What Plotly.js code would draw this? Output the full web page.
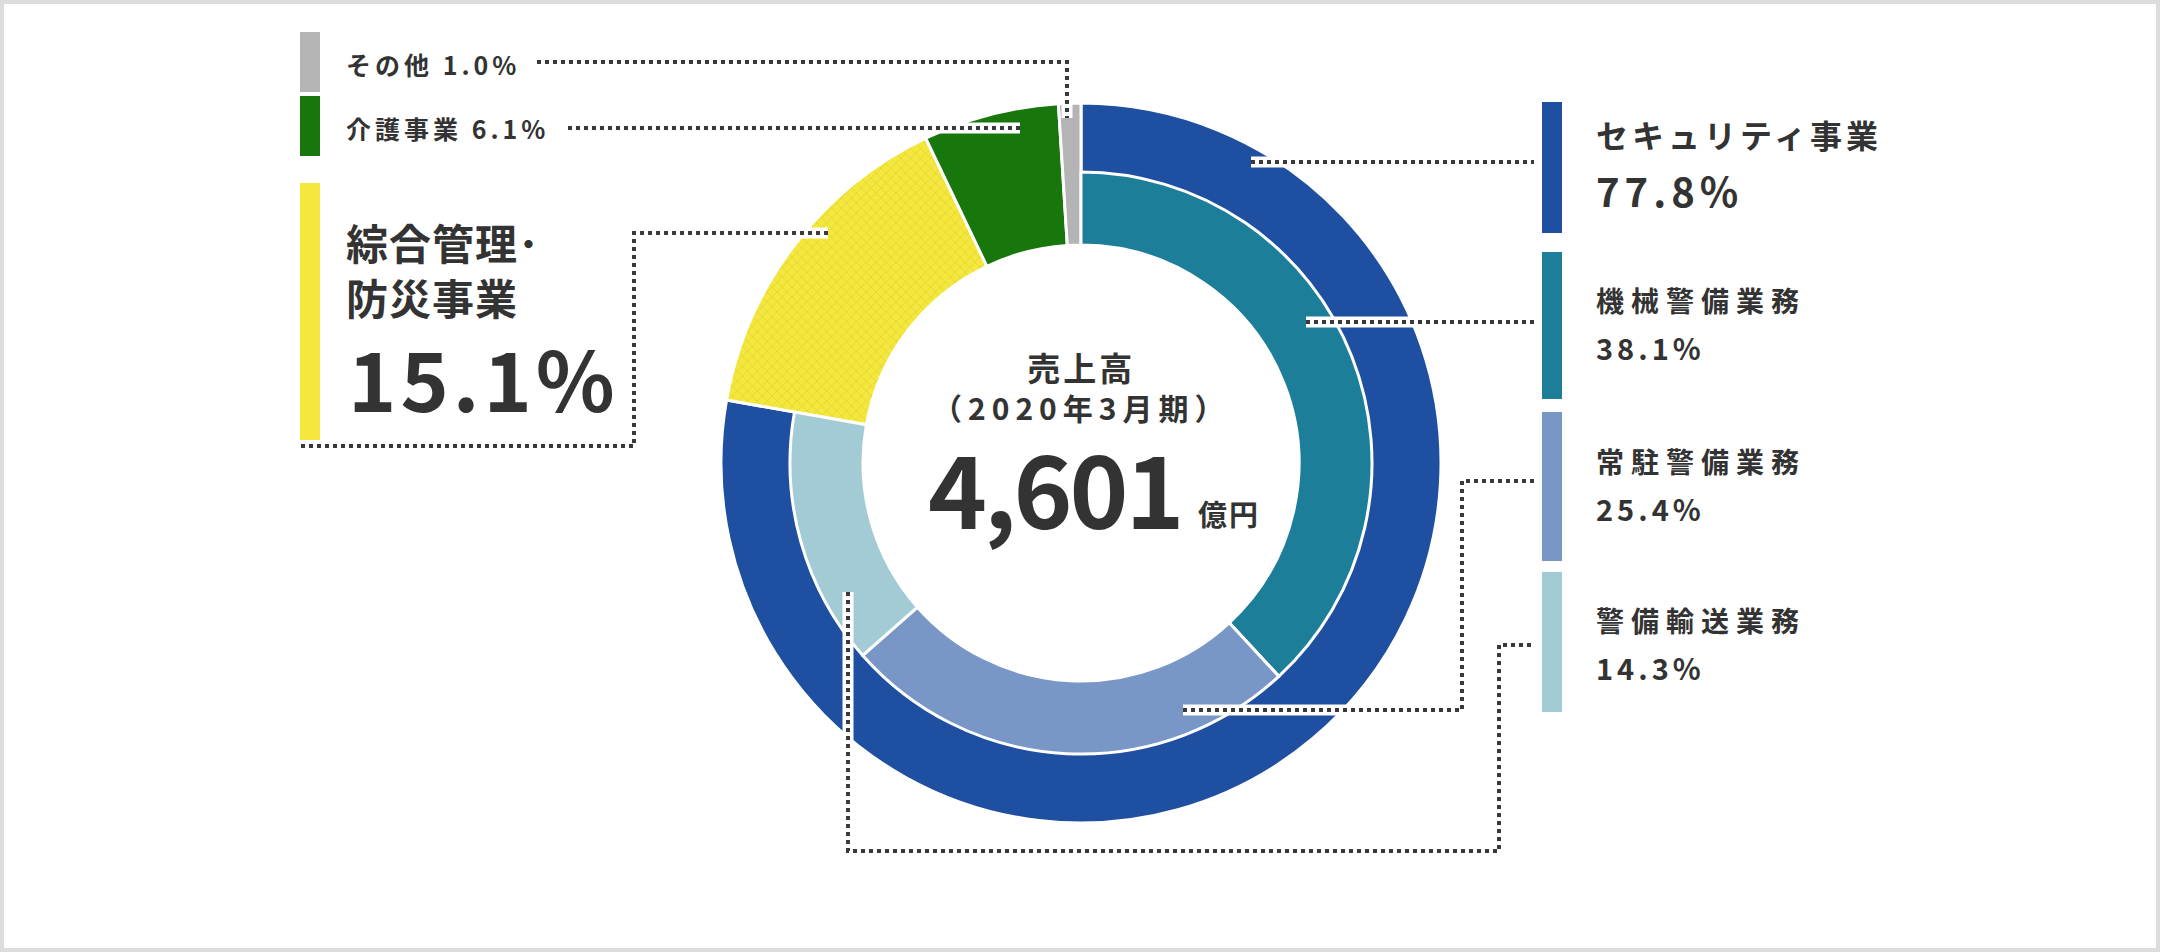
<!DOCTYPE html>
<html>
<head>
<meta charset="utf-8">
<script src="https://cdn.plot.ly/plotly-3.0.1.min.js"></script>
<style>
  html, body { margin: 0; padding: 0; background: #fff; }
  #sales_chart { width: 2160px; height: 952px; }
</style>
</head>
<body>
<div id="sales_chart"></div>
<script>
// segment share of sales, FY2020/3 (%)
var segments = ['セキュリティ事業', '綜合管理･防災事業', '介護事業', 'その他']
var segment_share = [77.8, 15.1, 6.1, 1.0]
var segment_colors = ['#1f4fa0', '#f4e83e', '#17760c', '#b4b4b4']

// breakdown of the security business (%)
var security_parts = ['機械警備業務', '常駐警備業務', '警備輸送業務']
var security_share = [38.1, 25.4, 14.3]
var security_colors = ['#1c7e99', '#7896c6', '#a3cbd6']

var sales_title = '売上高'
var sales_period = '（2020年3月期）'
var sales_total = 4601
var sales_unit = '億円'

var W = 2160, H = 952
function px(x) { return x / W }
function py(y) { return 1 - y / H }

var FONT = 'Noto Sans CJK JP, Noto Sans, sans-serif'
var INK = '#333333'

// donut geometry (pixels)
var cx = 1081, cy = 463, r_out = 360, r_mid = 291, r_in = 218

function domain(r) {
    return { x: [px(cx - r), px(cx + r)], y: [py(cy + r), py(cy - r)] }
}

// inner ring only covers the security part, the rest is left see-through
var total = segment_share.reduce(function (a, b) { return a + b }, 0)
var inner_sum = security_share.reduce(function (a, b) { return a + b }, 0)
var see_through = total - inner_sum

var data = [
    {
        type: 'pie',
        labels: segments,
        values: segment_share,
        sort: false,
        direction: 'clockwise',
        rotation: 0,
        hole: r_in / r_out,
        domain: domain(r_out),
        marker: {
            colors: segment_colors,
            line: { color: '#ffffff', width: 3 },
            pattern: {
                shape: ['', 'x', '', ''],
                bgcolor: segment_colors,
                fgcolor: ['#ffffff', '#dccd2c', '#ffffff', '#ffffff'],
                fgopacity: 0.6,
                size: 7,
                solidity: 0.25
            }
        },
        textinfo: 'none',
        hoverinfo: 'label+percent',
        showlegend: false
    },
    {
        type: 'pie',
        labels: security_parts.concat(['']),
        values: security_share.concat([see_through]),
        sort: false,
        direction: 'clockwise',
        rotation: 0,
        hole: r_in / r_mid,
        domain: domain(r_mid),
        marker: {
            colors: security_colors.concat(['rgba(0,0,0,0)']),
            line: { color: '#ffffff', width: [3, 3, 3, 0] }
        },
        textinfo: 'none',
        hoverinfo: 'label+value',
        showlegend: false
    }
]

function sp(txt, s, size) {
    return '<span style="letter-spacing:' + s + 'px' + (size ? ';font-size:' + size + 'px' : '') + '">' + txt + '</span>'
}
function pct(v) { return v.toFixed(1) + '%' }

function note(txt, x, y, size, anchor) {
    return {
        text: txt, x: px(x), y: py(y), xref: 'paper', yref: 'paper',
        xanchor: anchor || 'left', yanchor: 'middle', align: anchor || 'left', showarrow: false,
        font: { family: FONT, size: size, color: INK, weight: 700 }
    }
}

var seg1 = segments[1].split('･')

var annotations = [
    // center
    note(sp(sales_title, 3, 33) + '<br>' + sp(sales_period, 6), cx, 386, 30, 'center'),
    note(sp(sales_total.toLocaleString('en-US'), -3), 1184, 486, 100, 'right'),
    note(sp(sales_unit, 2), 1196, 513, 29),
    // left side
    note(sp(segments[3] + ' ' + pct(segment_share[3]), 4), 344, 64, 25),
    note(sp(segments[2] + ' ' + pct(segment_share[2]), 4), 344, 128, 25),
    note(sp(seg1[0] + '･', 1) + '<br>' + sp(seg1[1], 1), 344, 269, 42),
    note(sp(pct(segment_share[1]), 4), 346, 377, 82),
    // right side
    note(sp(segments[0], 4), 1594, 134, 32),
    note(sp(pct(segment_share[0]), 5), 1594, 190, 40),
    note(sp(security_parts[0], 7), 1594, 300, 28),
    note(sp(pct(security_share[0]), 4), 1594, 347, 29),
    note(sp(security_parts[1], 7), 1594, 461, 28),
    note(sp(pct(security_share[1]), 4), 1594, 508, 29),
    note(sp(security_parts[2], 7), 1594, 620, 28),
    note(sp(pct(security_share[2]), 4), 1594, 667, 29)
]

// colour keys beside the labels
function key(x0, y0, x1, y1, color) {
    return {
        type: 'rect', xref: 'paper', yref: 'paper',
        x0: px(x0), x1: px(x1), y0: py(y1), y1: py(y0),
        fillcolor: color, line: { width: 0 }
    }
}

var shapes = [
    // frame
    { type: 'rect', xref: 'paper', yref: 'paper', x0: px(2), x1: px(W - 2), y0: py(H - 2), y1: py(2),
      line: { color: '#dcdcdc', width: 4 }, fillcolor: 'rgba(0,0,0,0)' },
    key(300, 32, 320, 92, segment_colors[3]),
    key(300, 96, 320, 156, segment_colors[2]),
    key(300, 183, 320, 440, segment_colors[1]),
    key(1542, 102, 1562, 233, segment_colors[0]),
    key(1542, 252, 1562, 399, security_colors[0]),
    key(1542, 412, 1562, 561, security_colors[1]),
    key(1542, 572, 1562, 712, security_colors[2])
]

// dotted leader lines, white halo underneath
var leaders = [
    [[537, 62], [1067, 62], [1067, 118]],
    [[568, 128], [1020, 128]],
    [[828, 233], [634, 233], [634, 446], [300, 446]],
    [[1251, 162], [1534, 162]],
    [[1306, 322], [1534, 322]],
    [[1183, 710], [1462, 710], [1462, 481], [1534, 481]],
    [[848, 592], [848, 851], [1499, 851], [1499, 645], [1534, 645]]
]

function path(pts) {
    return pts.map(function (p, i) { return (i ? 'L' : 'M') + px(p[0]) + ',' + py(p[1]) }).join(' ')
}

leaders.forEach(function (pts) {
    shapes.push({ type: 'path', xref: 'paper', yref: 'paper', path: path(pts),
        line: { color: '#ffffff', width: 11 } })
})
leaders.forEach(function (pts) {
    shapes.push({ type: 'path', xref: 'paper', yref: 'paper', path: path(pts),
        line: { color: '#3a3a3a', width: 4, dash: '4px,4px' } })
})

var layout = {
    width: W,
    height: H,
    margin: { l: 0, r: 0, t: 0, b: 0 },
    paper_bgcolor: '#ffffff',
    plot_bgcolor: '#ffffff',
    showlegend: false,
    annotations: annotations,
    shapes: shapes
}

Plotly.newPlot('sales_chart', data, layout, { displayModeBar: false, staticPlot: true })
</script>
</body>
</html>
